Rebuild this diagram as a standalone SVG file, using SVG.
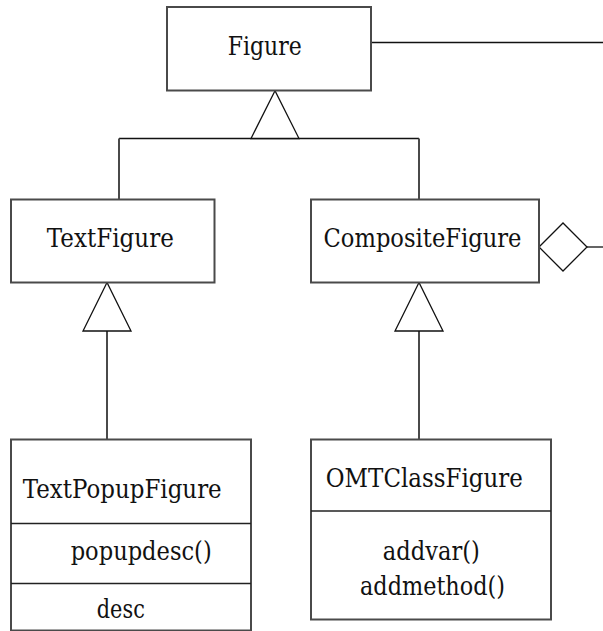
<svg xmlns="http://www.w3.org/2000/svg" width="603" height="631" viewBox="0 0 603 631">
  <style>
    .box { fill: #ffffff; stroke: #4a4a4a; stroke-width: 2; }
    .div { stroke: #222222; stroke-width: 1.4; fill: none; }
    .wire { stroke: #111111; stroke-width: 1.3; fill: none; }
    .drop { stroke: #4a4a4a; stroke-width: 2; fill: none; }
    .head { fill: #ffffff; stroke: #111111; stroke-width: 1.3; stroke-linejoin: miter; }
    .lbl { font-family: 'DejaVu Serif', 'Liberation Serif', serif; font-size: 25.5px; fill: #111111; text-anchor: middle; }
  </style>

  <!-- connectors -->
  <g id="connectors">
    <!-- Figure association line to the right edge -->
    <line class="wire" x1="371" y1="42.5" x2="603" y2="42.5"/>
    <!-- generalisation: TextFigure / CompositeFigure to Figure -->
    <line class="wire" x1="119" y1="138.5" x2="419" y2="138.5"/>
    <line class="drop" x1="119" y1="138.5" x2="119" y2="199.5"/>
    <line class="drop" x1="419" y1="138.5" x2="419" y2="199.5"/>
    <polygon class="head" points="275,90.7 251,138.5 299,138.5"/>
    <!-- generalisation: TextPopupFigure to TextFigure -->
    <line class="drop" x1="107" y1="331" x2="107" y2="439.5"/>
    <polygon class="head" points="107,282.5 83,331 131,331"/>
    <!-- generalisation: OMTClassFigure to CompositeFigure -->
    <line class="drop" x1="419" y1="331" x2="419" y2="439.5"/>
    <polygon class="head" points="419,282.5 395,331 443,331"/>
    <!-- aggregation from CompositeFigure -->
    <line class="wire" x1="587" y1="247" x2="603" y2="247"/>
    <polygon class="head" points="539,247 563,223 587,247 563,271"/>
  </g>

  <g id="node-figure">
    <rect class="box" x="167" y="7" width="204" height="83.5"/>
    <text class="lbl" x="264.7" y="55" textLength="74" lengthAdjust="spacingAndGlyphs">Figure</text>
  </g>

  <g id="node-textfigure">
    <rect class="box" x="11" y="199.5" width="203.5" height="83"/>
    <text class="lbl" x="110.3" y="247" textLength="127" lengthAdjust="spacingAndGlyphs">TextFigure</text>
  </g>

  <g id="node-compositefigure">
    <rect class="box" x="311" y="199.5" width="228" height="83"/>
    <text class="lbl" x="422.5" y="247" textLength="198" lengthAdjust="spacingAndGlyphs">CompositeFigure</text>
  </g>

  <g id="node-textpopupfigure">
    <rect class="box" x="11" y="439.5" width="240" height="191"/>
    <line class="div" x1="11" y1="523.5" x2="251" y2="523.5"/>
    <line class="div" x1="11" y1="583.5" x2="251" y2="583.5"/>
    <text class="lbl" x="122.2" y="498" textLength="199" lengthAdjust="spacingAndGlyphs">TextPopupFigure</text>
    <text class="lbl" x="141.2" y="560" textLength="141" lengthAdjust="spacingAndGlyphs">popupdesc()</text>
    <text class="lbl" x="120.8" y="618" textLength="48" lengthAdjust="spacingAndGlyphs">desc</text>
  </g>

  <g id="node-omtclassfigure">
    <rect class="box" x="311" y="439.5" width="240" height="180"/>
    <line class="div" x1="311" y1="511" x2="551" y2="511"/>
    <text class="lbl" x="424.3" y="487" textLength="197" lengthAdjust="spacingAndGlyphs">OMTClassFigure</text>
    <text class="lbl" x="431.3" y="560" textLength="97" lengthAdjust="spacingAndGlyphs">addvar()</text>
    <text class="lbl" x="432.5" y="595" textLength="145" lengthAdjust="spacingAndGlyphs">addmethod()</text>
  </g>
</svg>
